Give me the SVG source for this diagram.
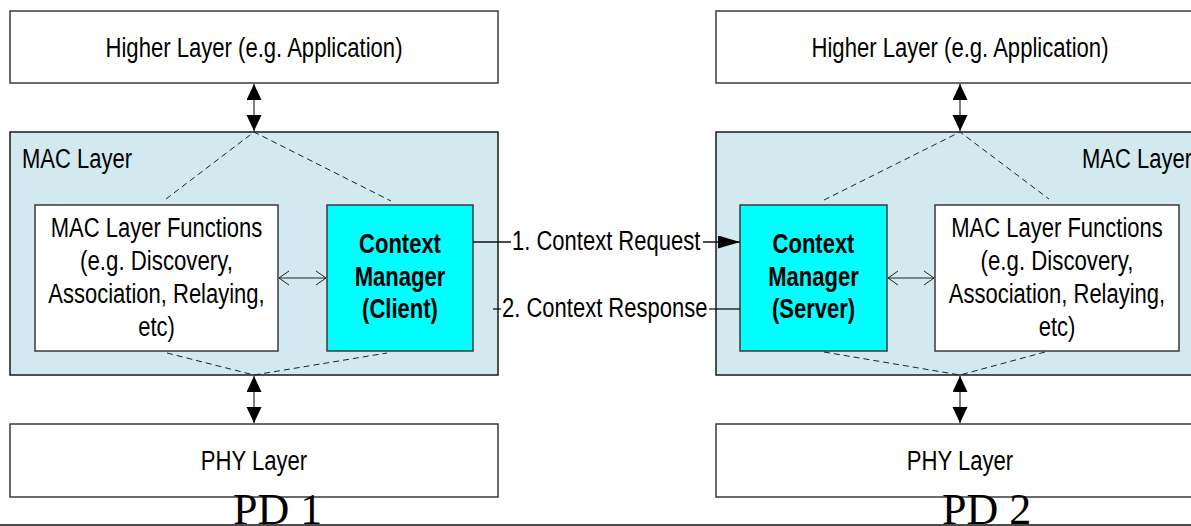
<svg xmlns="http://www.w3.org/2000/svg" width="1191" height="526" viewBox="0 0 1191 526">
<style>
.box{fill:#ffffff;stroke:#3a3a3a;stroke-width:1.5}
.mac{fill:#d1e9ef;stroke:#1a1a1a;stroke-width:1.5}
.cm{fill:#00ffff;stroke:#3a3a3a;stroke-width:1.5}
.t{font-family:"Liberation Sans",Arial,sans-serif;font-size:27px;fill:#000;text-anchor:middle}
.s{text-anchor:start}
.b{font-weight:bold}
.pd{font-family:"Liberation Serif","Times New Roman",serif;font-size:44px;fill:#000}
.dash{stroke:#222;stroke-width:1;stroke-dasharray:6,4;fill:none}
.v{stroke:#555;stroke-width:1.5;fill:none}
.h{stroke:#222;stroke-width:1;fill:none}
.msg{stroke:#111;stroke-width:1.3;fill:none}
</style>
<defs>
<marker id="tri" markerUnits="userSpaceOnUse" markerWidth="16" markerHeight="16" refX="16" refY="7.5" orient="auto-start-reverse">
<path d="M0,0 L16,7.5 L0,15 Z" fill="#000"/>
</marker>
<marker id="tri2" markerUnits="userSpaceOnUse" markerWidth="23" markerHeight="14" refX="22" refY="6.5" orient="auto">
<path d="M0,0 L22,6.5 L0,13 Z" fill="#000"/>
</marker>
<marker id="open" markerUnits="userSpaceOnUse" markerWidth="12" markerHeight="16" refX="11" refY="8" orient="auto-start-reverse">
<path d="M1,1 L11,8 L1,15" fill="none" stroke="#222" stroke-width="1"/>
</marker>
</defs>

<g id="pd1-higher"><rect class="box" x="10" y="11" width="488" height="72"/><text class="t" x="254" y="57" textLength="297" lengthAdjust="spacingAndGlyphs">Higher Layer (e.g. Application)</text></g>
<g id="pd1-mac"><rect class="mac" x="10" y="132" width="488" height="243"/><text class="t s" x="22" y="168" textLength="110" lengthAdjust="spacingAndGlyphs">MAC Layer</text></g>
<g id="pd1-functions"><rect class="box" x="35" y="205" width="243" height="146"/>
<text class="t" x="156.5" y="237" textLength="211.5" lengthAdjust="spacingAndGlyphs">MAC Layer Functions</text>
<text class="t" x="156.5" y="270" textLength="152.8" lengthAdjust="spacingAndGlyphs">(e.g. Discovery,</text>
<text class="t" x="156.5" y="303" textLength="216.4" lengthAdjust="spacingAndGlyphs">Association, Relaying,</text>
<text class="t" x="156.5" y="336" textLength="36.7" lengthAdjust="spacingAndGlyphs">etc)</text></g>
<g id="pd1-cm"><rect class="cm" x="327" y="205" width="146" height="146"/>
<text class="t b" x="400" y="253" textLength="81.9" lengthAdjust="spacingAndGlyphs">Context</text>
<text class="t b" x="400" y="286" textLength="90.5" lengthAdjust="spacingAndGlyphs">Manager</text>
<text class="t b" x="400" y="318" textLength="75.8" lengthAdjust="spacingAndGlyphs">(Client)</text></g>
<g id="pd1-phy"><rect class="box" x="10" y="424" width="488" height="73"/><text class="t" x="254" y="470" textLength="106.4" lengthAdjust="spacingAndGlyphs">PHY Layer</text></g>

<g id="pd2-higher"><rect class="box" x="716" y="11" width="490" height="72"/><text class="t" x="960" y="57" textLength="297" lengthAdjust="spacingAndGlyphs">Higher Layer (e.g. Application)</text></g>
<g id="pd2-mac"><rect class="mac" x="716" y="132" width="490" height="243"/><text class="t s" x="1082" y="168" textLength="110" lengthAdjust="spacingAndGlyphs">MAC Layer</text></g>
<g id="pd2-cm"><rect class="cm" x="740" y="205" width="147" height="146"/>
<text class="t b" x="813.5" y="253" textLength="81.9" lengthAdjust="spacingAndGlyphs">Context</text>
<text class="t b" x="813.5" y="286" textLength="90.5" lengthAdjust="spacingAndGlyphs">Manager</text>
<text class="t b" x="813.5" y="318" textLength="83.1" lengthAdjust="spacingAndGlyphs">(Server)</text></g>
<g id="pd2-functions"><rect class="box" x="935" y="205" width="244" height="146"/>
<text class="t" x="1057" y="237" textLength="211.5" lengthAdjust="spacingAndGlyphs">MAC Layer Functions</text>
<text class="t" x="1057" y="270" textLength="152.8" lengthAdjust="spacingAndGlyphs">(e.g. Discovery,</text>
<text class="t" x="1057" y="303" textLength="216.4" lengthAdjust="spacingAndGlyphs">Association, Relaying,</text>
<text class="t" x="1057" y="336" textLength="36.7" lengthAdjust="spacingAndGlyphs">etc)</text></g>
<g id="pd2-phy"><rect class="box" x="716" y="424" width="490" height="73"/><text class="t" x="960" y="470" textLength="106.4" lengthAdjust="spacingAndGlyphs">PHY Layer</text></g>

<g id="connectors">
<line class="v" x1="254" y1="84" x2="254" y2="131" marker-start="url(#tri)" marker-end="url(#tri)"/>
<line class="v" x1="254" y1="376" x2="254" y2="423" marker-start="url(#tri)" marker-end="url(#tri)"/>
<line class="v" x1="960" y1="84" x2="960" y2="131" marker-start="url(#tri)" marker-end="url(#tri)"/>
<line class="v" x1="960" y1="376" x2="960" y2="423" marker-start="url(#tri)" marker-end="url(#tri)"/>
<polyline class="dash" points="166,199 254,132 391,201"/>
<polyline class="dash" points="167,353 254,375 387,353"/>
<polyline class="dash" points="824,200 960,132 1049,199"/>
<polyline class="dash" points="824,352 960,375 1045,352"/>
<line class="h" x1="279" y1="278" x2="326" y2="278" marker-start="url(#open)" marker-end="url(#open)"/>
<line class="h" x1="888" y1="278" x2="934" y2="278" marker-start="url(#open)" marker-end="url(#open)"/>
<g id="msg-request">
<line class="msg" x1="473" y1="242" x2="511" y2="242"/>
<line class="msg" x1="703" y1="242" x2="740" y2="242" marker-end="url(#tri2)"/>
<text class="t s" x="512" y="250" textLength="188.3" lengthAdjust="spacingAndGlyphs">1. Context Request</text>
</g>
<g id="msg-response">
<line class="msg" x1="493" y1="309" x2="501" y2="309"/>
<line class="msg" x1="709" y1="309" x2="740" y2="309"/>
<text class="t s" x="502" y="317" textLength="205.4" lengthAdjust="spacingAndGlyphs">2. Context Response</text>
</g>
</g>

<g id="labels">
<text class="pd" x="233" y="524">PD 1</text>
<text class="pd" x="942" y="524">PD 2</text>
<line x1="0" y1="525" x2="1191" y2="525" stroke="#111" stroke-width="1.5"/>
</g>
</svg>
